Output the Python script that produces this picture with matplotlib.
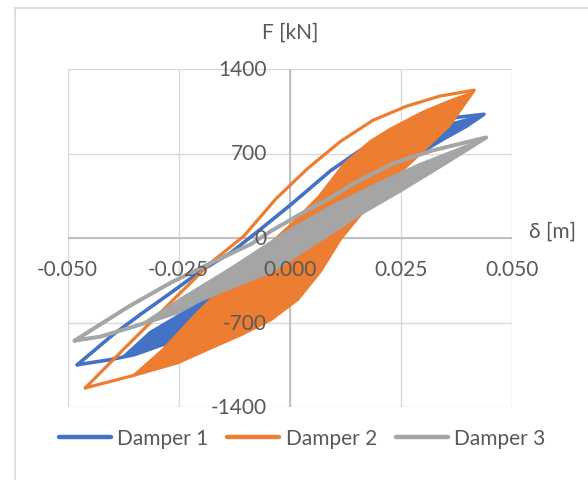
import matplotlib
matplotlib.use("Agg")
import matplotlib.pyplot as plt
from matplotlib.lines import Line2D
from matplotlib.patches import Polygon

# ---------------- data ----------------
series_names = ["Damper 1", "Damper 2", "Damper 3"]
series_colors = ["#4472C4", "#ED7D31", "#A5A5A5"]

# Damper 1 : outer loop (upper / lower branch) and inner dense band
d1_upper_x = [-0.0478, -0.0400, -0.0333, -0.0266, -0.0199, -0.0132, -0.0065, 0.0002, 0.0092, 0.0158, 0.0237, 0.0299, 0.0359, 0.0437]
d1_upper_y = [-1050, -808, -625, -450, -270, -120, 75, 275, 558, 725, 858, 933, 992, 1025]
d1_lower_x = [-0.0478, -0.0404, -0.0350, -0.0254, -0.0154, -0.0065, 0.0025, 0.0114, 0.0203, 0.0299, 0.0348, 0.0397, 0.0437]
d1_lower_y = [-1050, -1008, -967, -842, -642, -425, -142, 175, 467, 717, 825, 925, 1025]
d1_band_x = [-0.0377, -0.0315, -0.0254, -0.0154, -0.0065, 0.0025, 0.0114, 0.0203, 0.0299, 0.0359, 0.0437]
d1_band_y = [-983, -775, -642, -425, -192, 58, 325, 558, 825, 950, 1025]

# Damper 2
d2_upper_x = [-0.0460, -0.0377, -0.0254, -0.0176, -0.0103, -0.0031, 0.0040, 0.0114, 0.0187, 0.0263, 0.0337, 0.0415]
d2_upper_y = [-1242, -933, -483, -200, 17, 325, 575, 800, 975, 1092, 1175, 1225]
d2_lower_x = [-0.0460, -0.0355, -0.0252, -0.0176, -0.0109, -0.0042, 0.0018, 0.0069, 0.0114, 0.0203, 0.0281, 0.0359, 0.0415]
d2_lower_y = [-1242, -1142, -1033, -908, -800, -675, -508, -275, -8, 392, 658, 933, 1225]
d2_band_x = [-0.0355, -0.0288, -0.0214, -0.0141, -0.0065, 0.0002, 0.0063, 0.0121, 0.0181, 0.0225, 0.0299, 0.0359, 0.0415]
d2_band_y = [-1142, -925, -633, -367, -108, 117, 342, 617, 808, 908, 1050, 1142, 1217]

# Damper 3
d3_upper_x = [-0.0484, -0.0362, -0.0266, -0.0192, -0.0087, -0.0042, 0.0025, 0.0092, 0.0143, 0.0232, 0.0321, 0.0442]
d3_upper_y = [-850, -567, -367, -233, -50, 58, 200, 333, 450, 617, 725, 833]
d3_lower_x = [-0.0484, -0.0426, -0.0350, -0.0254, -0.0199, -0.0132, -0.0042, 0.0025, 0.0158, 0.0248, 0.0337, 0.0442]
d3_lower_y = [-850, -817, -733, -617, -508, -408, -275, -117, 200, 392, 592, 833]
d3_band_x = [-0.0333, -0.0243, -0.0132, 0.0000, 0.0092, 0.0203, 0.0292, 0.0442]
d3_band_y = [-708, -492, -242, 75, 267, 467, 617, 833]

x_ticks = [-0.050, -0.025, 0.000, 0.025, 0.050]
x_tick_labels = ["-0.050", "-0.025", "0.000", "0.025", "0.050"]
y_ticks = [-1400, -700, 0, 700, 1400]
y_tick_labels = ["-1400", "-700", "0", "700", "1400"]
x_title = "δ [m]"
y_title = "F [kN]"

# ---------------- figure ----------------
W, H = 588, 481
plt.rcParams['font.family'] = ['Lato', 'DejaVu Sans']
FS = 15
TXT = "#595959"
GRID = "#D9D9D9"

fig = plt.figure(figsize=(W / 100, H / 100), dpi=100)
ax = fig.add_axes([67.5 / W, 1 - 408 / H, (512 - 67.5) / W, (408 - 70) / H])
ax.set_xlim(x_ticks[0], x_ticks[-1])
ax.set_ylim(y_ticks[0], y_ticks[-1])
ax.set_xticks(x_ticks)
ax.set_yticks(y_ticks)
ax.tick_params(length=0, labelbottom=False, labelleft=False)
for s in ax.spines.values():
    s.set_visible(False)
ax.set_axisbelow(True)
ax.grid(True, color=GRID, lw=1.0)
ax.axhline(0, color="#BFBFBF", lw=1.4, zorder=1)
ax.axvline(0, color="#BFBFBF", lw=1.4, zorder=1)

series = [
    (d1_upper_x, d1_upper_y, d1_lower_x, d1_lower_y, d1_band_x, d1_band_y, 2.6),
    (d2_upper_x, d2_upper_y, d2_lower_x, d2_lower_y, d2_band_x, d2_band_y, 2.3),
    (d3_upper_x, d3_upper_y, d3_lower_x, d3_lower_y, d3_band_x, d3_band_y, 2.9),
]
z = 2
for (ux, uy, lx, ly, bx, by, lw), col in zip(series, series_colors):
    # dense inner band: inner edge then lower branch back
    low_pts = [(x, y) for x, y in zip(lx, ly) if x > bx[0]]
    poly = list(zip(bx, by)) + low_pts[::-1]
    ax.add_patch(Polygon(poly, closed=True, facecolor=col, edgecolor=col, lw=0.8, zorder=z))
    # outer loop
    loop_x = list(ux) + list(lx[::-1])
    loop_y = list(uy) + list(ly[::-1])
    ax.plot(loop_x, loop_y, color=col, lw=lw, solid_joinstyle='round', solid_capstyle='round', zorder=z + 0.1)
    z += 1

# tick labels (drawn above the curves, like the reference)
for yt, lab in zip(y_ticks, y_tick_labels):
    ax.annotate(lab, xy=(0, yt), xytext=(-16.5, 0), textcoords='offset points',
                ha='right', va='center', fontsize=FS, color=TXT, zorder=10, annotation_clip=False)
for xt, lab in zip(x_ticks, x_tick_labels):
    ax.annotate(lab, xy=(xt, 0), xytext=(0, -22.5), textcoords='offset points',
                ha='center', va='center', fontsize=FS, color=TXT, zorder=10, annotation_clip=False)

fig.text(290 / W, 1 - 33 / H, y_title, ha='center', va='center', fontsize=FS, color=TXT)
fig.text(529 / W, 1 - 232 / H, x_title, ha='left', va='center', fontsize=FS, color=TXT)

# chart frame (partly visible)
fig.add_artist(Line2D([14.5 / W, 14.5 / W], [0, 1 - 9 / H], transform=fig.transFigure, color=GRID, lw=1.2))
fig.add_artist(Line2D([14.5 / W, 1], [1 - 9 / H, 1 - 9 / H], transform=fig.transFigure, color=GRID, lw=1.2))

handles = [Line2D([], [], color=c, lw=3.2, solid_capstyle='round') for c in series_colors]
fig.legend(handles, series_names, loc='center', ncol=3, frameon=False,
           bbox_to_anchor=(302 / W, 1 - 439 / H), fontsize=FS, labelcolor=TXT,
           handlelength=2.5, handletextpad=0.3, columnspacing=0.9)

fig.savefig("out.png", dpi=100, facecolor="white")
